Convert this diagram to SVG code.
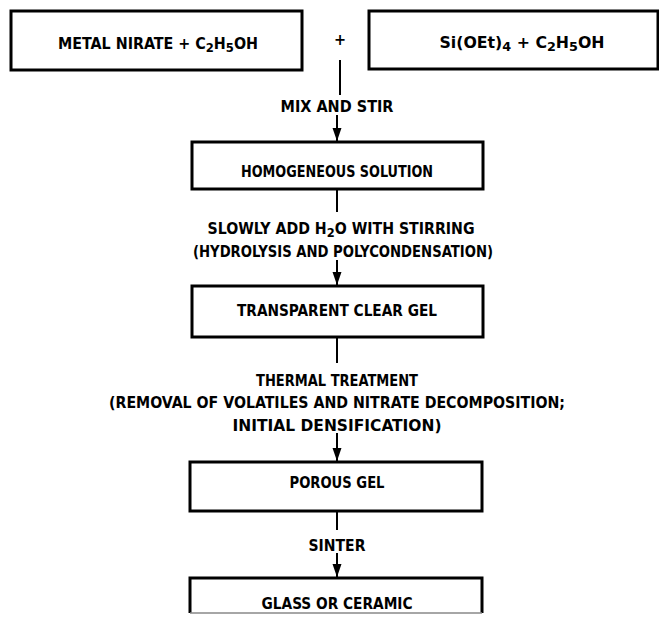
<svg xmlns="http://www.w3.org/2000/svg" width="659" height="624" viewBox="0 0 659 624">
<style>
.box{fill:#fff;stroke:#000;stroke-width:3}
.t{font-family:"DejaVu Sans Condensed","DejaVu Sans","Liberation Sans",sans-serif;font-size:16px;font-weight:bold;fill:#000;text-anchor:middle}
.c{stroke:#000;stroke-width:2;fill:none}
.sub{font-size:13px}
</style>
<defs>
<marker id="ah" markerUnits="userSpaceOnUse" markerWidth="14" markerHeight="10" refX="13" refY="5" orient="auto" viewBox="0 0 14 10">
<path d="M0,0.5 L13,5 L0,9.5 Z" fill="#000"/>
</marker>
</defs>
<rect width="659" height="624" fill="#fff"/>
<g id="connectors">
<line class="c" x1="340" y1="60" x2="340" y2="95"/>
<line class="c" x1="337" y1="115" x2="337" y2="141" marker-end="url(#ah)"/>
<line class="c" x1="337" y1="189" x2="337" y2="212"/>
<line class="c" x1="337" y1="260" x2="337" y2="285" marker-end="url(#ah)"/>
<line class="c" x1="337" y1="337" x2="337" y2="363"/>
<line class="c" x1="337" y1="433" x2="337" y2="461" marker-end="url(#ah)"/>
<line class="c" x1="337" y1="511" x2="337" y2="530"/>
<line class="c" x1="337" y1="553" x2="337" y2="577" marker-end="url(#ah)"/>
</g>
<g id="node-metal-nitrate">
<rect class="box" x="11" y="11" width="291" height="59"/>
<text class="t" x="158" y="49" textLength="200" lengthAdjust="spacingAndGlyphs">METAL NIRATE + C<tspan class="sub" dy="3">2</tspan><tspan dy="-3">H</tspan><tspan class="sub" dy="3">5</tspan><tspan dy="-3">OH</tspan></text>
</g>
<g id="plus">
<text class="t" x="340" y="45">+</text>
</g>
<g id="node-sioet">
<rect class="box" x="369" y="11" width="289" height="58"/>
<text class="t" x="522" y="48" textLength="165" lengthAdjust="spacingAndGlyphs">Si(OEt)<tspan class="sub" dy="3">4</tspan><tspan dy="-3"> + C</tspan><tspan class="sub" dy="3">2</tspan><tspan dy="-3">H</tspan><tspan class="sub" dy="3">5</tspan><tspan dy="-3">OH</tspan></text>
</g>
<g id="label-mix">
<text class="t" x="337" y="112" textLength="113" lengthAdjust="spacingAndGlyphs">MIX AND STIR</text>
</g>
<g id="node-homogeneous">
<rect class="box" x="192" y="142" width="291" height="47"/>
<text class="t" x="337" y="177" textLength="192" lengthAdjust="spacingAndGlyphs">HOMOGENEOUS SOLUTION</text>
</g>
<g id="label-slowly">
<text class="t" x="341" y="234" textLength="267" lengthAdjust="spacingAndGlyphs">SLOWLY ADD H<tspan class="sub" dy="3">2</tspan><tspan dy="-3">O WITH STIRRING</tspan></text>
<text class="t" x="343" y="257" textLength="300" lengthAdjust="spacingAndGlyphs">(HYDROLYSIS AND POLYCONDENSATION)</text>
</g>
<g id="node-transparent">
<rect class="box" x="192" y="286" width="291" height="51"/>
<text class="t" x="337" y="316" textLength="200" lengthAdjust="spacingAndGlyphs">TRANSPARENT CLEAR GEL</text>
</g>
<g id="label-thermal">
<text class="t" x="337" y="386" textLength="162" lengthAdjust="spacingAndGlyphs">THERMAL TREATMENT</text>
<text class="t" x="337" y="408" textLength="456" lengthAdjust="spacingAndGlyphs">(REMOVAL OF VOLATILES AND NITRATE DECOMPOSITION;</text>
<text class="t" x="337" y="431" textLength="209" lengthAdjust="spacingAndGlyphs">INITIAL DENSIFICATION)</text>
</g>
<g id="node-porous">
<rect class="box" x="190" y="462" width="292" height="49"/>
<text class="t" x="337" y="488" textLength="95" lengthAdjust="spacingAndGlyphs">POROUS GEL</text>
</g>
<g id="label-sinter">
<text class="t" x="337" y="551" textLength="57" lengthAdjust="spacingAndGlyphs">SINTER</text>
</g>
<g id="node-glass">
<path class="box" d="M190,613 L190,578 L482,578 L482,613"/>
<line x1="190" y1="613" x2="482" y2="613" stroke="#888" stroke-width="1.5"/>
<text class="t" x="337" y="609" textLength="151" lengthAdjust="spacingAndGlyphs">GLASS OR CERAMIC</text>
</g>
</svg>
